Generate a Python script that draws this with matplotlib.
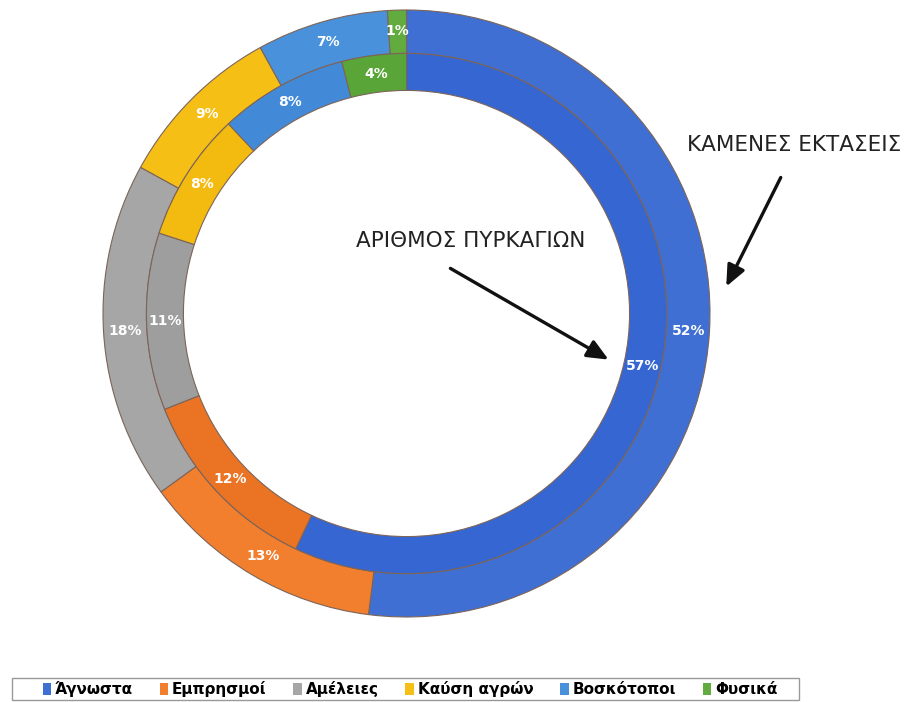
import matplotlib.pyplot as plt
from matplotlib.patches import FancyArrowPatch, Patch, Rectangle

# ---------- Data ----------
causes = ["Άγνωστα", "Εμπρησμοί", "Αμέλειες", "Καύση αγρών", "Βοσκότοποι", "Φυσικά"]
burned_area_pct = [52, 13, 18, 9, 7, 1]     # outer ring: ΚΑΜΕΝΕΣ ΕΚΤΑΣΕΙΣ
fire_count_pct = [57, 12, 11, 8, 8, 4]      # inner ring: ΑΡΙΘΜΟΣ ΠΥΡΚΑΓΙΩΝ

outer_colors = ["#3f6fd3", "#f27f2e", "#a6a6a6", "#f6bf16", "#4a91dc", "#62ab3e"]
inner_colors = ["#3566d2", "#ea7424", "#9e9e9e", "#f3ba10", "#428ad8", "#5aa537"]

W, H = 911, 702
fig = plt.figure(figsize=(W / 100, H / 100), dpi=100)


def fx(px):
    return px / W


def fy(py):
    return 1 - py / H


# axes box holds the outer ring exactly (radius 1)
ax = fig.add_axes([fx(103), fy(617), 607 / W, 607 / H])
ax.set_aspect("equal")

edge = dict(edgecolor="#7d6458", linewidth=0.8)
pct_text = dict(color="white", fontsize=10, fontweight="bold")

# Outer ring
ax.pie(burned_area_pct, radius=1.0, startangle=90, counterclock=False,
       colors=outer_colors, autopct="%d%%", pctdistance=0.93,
       wedgeprops=dict(width=0.143, **edge), textprops=pct_text)

# Inner ring
ax.pie(fire_count_pct, radius=0.857, startangle=90, counterclock=False,
       colors=inner_colors, autopct="%d%%", pctdistance=0.929,
       wedgeprops=dict(width=0.122, **edge), textprops=pct_text)

ax.set_xlim(-1, 1)
ax.set_ylim(-1, 1)

# Captions with arrows pointing at the rings
caption = dict(ha="center", va="center", fontsize=15.5, color="#222222")
fig.text(fx(794), fy(145), "ΚΑΜΕΝΕΣ ΕΚΤΑΣΕΙΣ", **caption)
fig.text(fx(471), fy(241), "ΑΡΙΘΜΟΣ ΠΥΡΚΑΓΙΩΝ", **caption)

arrow = dict(arrowstyle="-|>,head_length=0.8,head_width=0.35", lw=2.4,
             color="#111111", mutation_scale=16, transform=fig.transFigure)
fig.add_artist(FancyArrowPatch((fx(782), fy(175)), (fx(725), fy(289)), **arrow))
fig.add_artist(FancyArrowPatch((fx(448), fy(267)), (fx(611), fy(361)), **arrow))

# Legend with a plain square-cornered frame
fig.add_artist(Rectangle((fx(12), fy(700)), 787 / W, 22 / H,
                         transform=fig.transFigure, facecolor="white",
                         edgecolor="#999999", linewidth=1.0))
handles = [Patch(facecolor=c, edgecolor="none") for c in outer_colors]
leg = fig.legend(handles, causes, loc="center", ncol=6,
                 bbox_to_anchor=(fx(410), fy(689)), frameon=False,
                 handlelength=0.55, handleheight=0.8, handletextpad=0.25,
                 columnspacing=1.75, borderpad=0.0,
                 prop=dict(family="DejaVu Sans", weight="bold", size=11))

fig.savefig("out.png", dpi=100)
